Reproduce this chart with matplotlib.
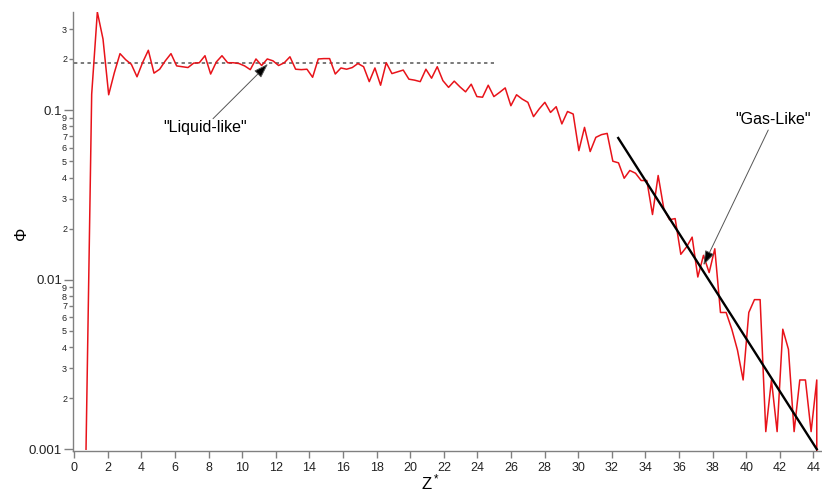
import numpy as np
import matplotlib
matplotlib.use("Agg")
import matplotlib.pyplot as plt
from matplotlib.ticker import FixedLocator, FuncFormatter

plt.rcParams['font.family'] = ['Liberation Sans', 'DejaVu Sans']
plt.rcParams['mathtext.fontset'] = 'custom'
plt.rcParams['mathtext.rm'] = 'Liberation Sans'
plt.rcParams['mathtext.it'] = 'Liberation Sans'

# Z* sampling grid of the density profile
z_start = 0.70
z_step = 0.3372
phi = [
    0.001, 0.124, 0.378, 0.262, 0.123, 0.166, 0.215, 0.198, 0.186, 0.157,
    0.191, 0.225, 0.165, 0.174, 0.195, 0.215, 0.182, 0.180, 0.178, 0.189,
    0.190, 0.209, 0.163, 0.192, 0.209, 0.190, 0.190, 0.188, 0.182, 0.173,
    0.200, 0.183, 0.200, 0.195, 0.183, 0.190, 0.206, 0.174, 0.173, 0.174,
    0.156, 0.200, 0.201, 0.201, 0.163, 0.177, 0.174, 0.178, 0.188, 0.180,
    0.147, 0.177, 0.140, 0.190, 0.164, 0.168, 0.172, 0.152, 0.150, 0.147,
    0.174, 0.154, 0.180, 0.149, 0.136, 0.148, 0.137, 0.128, 0.142, 0.120,
    0.119, 0.140, 0.120, 0.127, 0.135, 0.106, 0.123, 0.116, 0.111, 0.0914,
    0.1015, 0.111, 0.0968, 0.1046, 0.0828, 0.098, 0.0947, 0.0576, 0.079, 0.0569,
    0.069, 0.0716, 0.0728, 0.0499, 0.0488, 0.0396, 0.044, 0.0424, 0.0384, 0.0384,
    0.0242, 0.0411, 0.0262, 0.02255, 0.0229, 0.0141, 0.01556, 0.0178, 0.01036, 0.0139,
    0.0110, 0.0152, 0.0064, 0.0064, 0.0051, 0.00384, 0.00256, 0.0064, 0.00762, 0.00762,
    0.00127, 0.00256, 0.00127, 0.0051, 0.00388, 0.00127, 0.00256, 0.00256, 0.00127, 0.00256,
    0.0,
]
z = z_start + z_step * np.arange(len(phi))

# bulk liquid level and gas-side exponential fit
liquid_level = 0.19
liquid_z = [0.0, 25.0]
gas_fit_z = [32.38, 44.2]
gas_fit_phi = [0.0684, 0.001]

x_ticks = list(range(0, 45, 2))

fig = plt.figure(figsize=(8.22, 4.93), dpi=100)
ax = fig.add_axes([0.0884, 0.0858, 0.9116, 0.8905])

ax.plot(z, phi, color='#e8131a', lw=1.1, zorder=3, clip_on=True)
ax.plot(liquid_z, [liquid_level, liquid_level], color='#555555', lw=1.1,
        linestyle=(0, (2.2, 2.2)), zorder=2)
ax.plot(gas_fit_z, gas_fit_phi, color='black', lw=1.7, zorder=4)

ax.set_yscale('log')
ax.set_xlim(-0.095, 44.51)
ax.set_ylim(0.00098, 0.38)

for side in ('top', 'right'):
    ax.spines[side].set_visible(False)
for side in ('left', 'bottom'):
    ax.spines[side].set_color('#808080')
    ax.spines[side].set_linewidth(1.0)

ax.xaxis.set_major_locator(FixedLocator(x_ticks))
ax.set_xticklabels([str(t) for t in x_ticks])
ax.tick_params(axis='x', which='major', direction='out', length=5, width=1.0,
               color='#808080', labelsize=9, pad=3, labelcolor='#222222')

major_y = [0.001, 0.01, 0.1]
minor_y = [m * d for d in (0.001, 0.01, 0.1) for m in range(2, 10) if m * d <= 0.38]
ax.yaxis.set_major_locator(FixedLocator(major_y))
ax.yaxis.set_minor_locator(FixedLocator(minor_y))
ax.yaxis.set_major_formatter(FuncFormatter(lambda v, p: ('%g' % v)))
ax.yaxis.set_minor_formatter(FuncFormatter(
    lambda v, p: str(int(round(v / 10 ** np.floor(np.log10(v) + 1e-9))))))
ax.tick_params(axis='y', which='major', direction='out', length=6.5, width=1.0,
               color='#808080', labelsize=9.5, pad=1, labelcolor='#222222')
ax.tick_params(axis='y', which='minor', direction='out', length=3, width=1.0,
               color='#808080', labelsize=6.5, pad=1, labelcolor='#222222')

ax.text(0.477, -0.072, 'Z$^*$', transform=ax.transAxes, ha='center', va='center',
        fontsize=12)
ax.text(-0.0677, 0.496, 'Φ', transform=ax.transAxes, ha='center', va='center',
        fontsize=12, rotation=90)

arrow_kw = dict(arrowstyle='-|>,head_length=0.9,head_width=0.3', lw=0.7,
                ec='#555555', fc='black', shrinkA=0, shrinkB=0)
ax.text(7.79, 0.0787, '"Liquid-like"', ha='center', va='center', fontsize=11.5)
ax.annotate('', xy=(11.53, 0.187), xytext=(8.26, 0.0889), arrowprops=arrow_kw, zorder=5)
ax.text(41.59, 0.0877, '"Gas-Like"', ha='center', va='center', fontsize=11.5)
ax.annotate('', xy=(37.45, 0.01214), xytext=(41.31, 0.0762), arrowprops=arrow_kw, zorder=5)

fig.savefig('out.png', dpi=100)
